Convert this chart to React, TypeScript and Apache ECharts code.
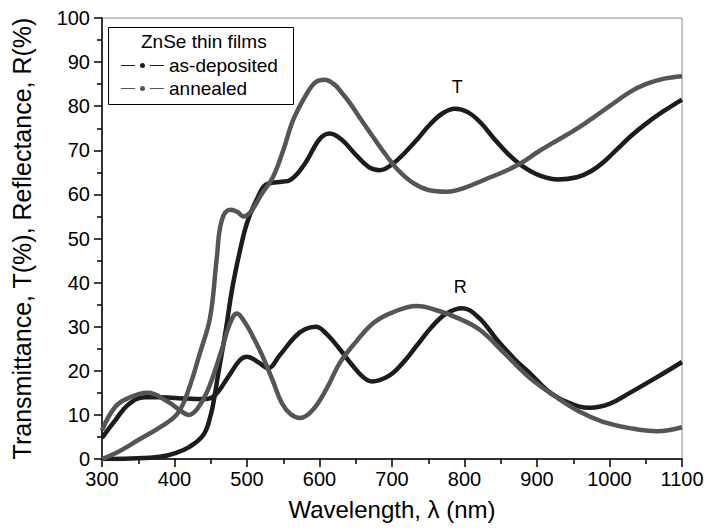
import React, { useEffect, useRef } from "react";
import * as echarts from "echarts";

const FONT = '"Liberation Sans", Arial, Helvetica, sans-serif';

// As-deposited transmittance
const tDepWl = [300, 340, 380, 400, 420, 440, 450, 455, 460, 470, 480, 490, 500, 513, 527, 545, 560, 580, 600, 614, 630, 650, 668, 683, 700, 718, 735, 752, 770, 787, 805, 822, 840, 860, 881, 905, 929, 955, 975, 995, 1012, 1030, 1050, 1074, 1100];
const tDepVal = [0, 0.1, 0.5, 1.3, 2.7, 5.5, 10, 14, 19, 28.5, 39, 47, 53.5, 58.7, 62.3, 62.8, 63.3, 67, 72.5, 73.8, 72.5, 69, 66.2, 65.5, 66.8, 69.5, 72.5, 75.8, 78.4, 79.4, 78.6, 76.3, 72.8, 69.2, 66.3, 64.2, 63.4, 63.9, 65.3, 67.8, 70.5, 73.3, 76, 78.8, 81.5];

// Annealed transmittance
const tAnnWl = [300, 320, 350, 383, 405, 420, 435, 449, 458, 465, 477, 487, 495, 505, 520, 536, 550, 564, 583, 595, 607, 620, 631, 642, 658, 674, 690, 708, 729, 750, 776, 800, 830, 855, 877, 900, 920, 940, 959, 980, 1000, 1028, 1050, 1074, 1100];
const tAnnVal = [0, 1.4, 4.3, 7.5, 10.5, 16, 24, 32, 45, 54, 56.5, 56, 55, 56, 60, 64, 70, 77, 83, 85.5, 86, 85, 83, 80.7, 76.8, 73, 69.3, 65.6, 62.6, 61, 60.6, 61.5, 63.5, 65.2, 67, 69.5, 71.5, 73.4, 75.3, 77.7, 80, 83.2, 85, 86.2, 86.8];

// As-deposited reflectance
const rDepWl = [300, 318, 336, 359, 383, 405, 442, 456, 474, 490, 500, 515, 529, 545, 566, 580, 595, 610, 630, 645, 660, 672, 695, 715, 735, 755, 775, 797, 820, 845, 870, 890, 914, 940, 973, 1000, 1028, 1065, 1100];
const rDepVal = [4.8, 8.7, 12.3, 14, 14, 13.8, 13.6, 14.5, 18.6, 22.4, 23.2, 22, 20.6, 23.5, 27.7, 29.4, 30, 28.3, 24.5, 21.3, 18.6, 17.6, 18.8, 21.8, 25.9, 30, 33, 34.2, 32, 27, 22.5, 19.5, 15.6, 13, 11.6, 12.5, 15, 18.5, 22];

// Annealed reflectance
const rAnnWl = [300, 318, 336, 363, 391, 408, 420, 432, 446, 465, 476, 486, 497, 509, 521, 535, 548, 560, 573, 590, 610, 628, 650, 674, 700, 734, 766, 790, 821, 855, 890, 925, 959, 990, 1028, 1066, 1100];
const rAnnVal = [6.5, 11.8, 13.8, 15, 13, 11, 10, 11.5, 15.6, 24.7, 30.5, 33, 31, 27.5, 23.5, 18, 12.7, 10.2, 9.3, 11, 16, 21.8, 26.5, 30.8, 33.2, 34.7, 33.5, 32, 29.3, 24, 18.4, 14.2, 10.7, 8.5, 7, 6.3, 7.2];

const seriesNames = ["as-deposited", "annealed"];
const legendTitle = "ZnSe thin films";
const curveLabels = [
  { text: "T", wl: 790, val: 84.4 },
  { text: "R", wl: 794, val: 39.0 },
];

const BLACK = "#1c1c1c";
const GRAY = "#555555";
const ICON =
  "path://M0,3H14V4H0Z M29,3H43V4H29Z M24,3.5A2.5,2.5,0,1,1,19,3.5A2.5,2.5,0,1,1,24,3.5Z";

const zip = (xs: number[], ys: number[]) => xs.map((x, i) => [x, ys[i]]);

export default function App() {
  const ref = useRef<HTMLDivElement>(null);
  useEffect(() => {
    if (!ref.current) return;
    const chart = echarts.init(ref.current, null, { renderer: "svg" });
    const lineBase = (name: string, color: string, data: number[][], extra: any = {}) => ({
      type: "line",
      name,
      data,
      smooth: 0.4,
      showSymbol: false,
      symbol: "none",
      lineStyle: { color, width: 4.5 },
      itemStyle: { color },
      ...extra,
    });
    const mk = (i: number) => ({
      symbol: "circle",
      symbolSize: 1,
      itemStyle: { color: "rgba(0,0,0,0)" },
      label: {
        show: true,
        position: "inside",
        formatter: curveLabels[i].text,
        color: "#000",
        fontSize: 18,
        fontFamily: FONT,
      },
      data: [{ coord: [curveLabels[i].wl, curveLabels[i].val] }],
    });
    chart.setOption({
      animation: false,
      backgroundColor: "#fff",
      textStyle: { fontFamily: FONT },
      grid: {
        left: 102,
        top: 18,
        width: 580,
        height: 441,
        show: true,
        borderColor: "#8a8a8a",
        borderWidth: 1,
        outerBoundsMode: "none",
      },
      legend: {
        orient: "vertical",
        left: 121,
        top: 56,
        itemWidth: 43,
        itemHeight: 5,
        itemGap: 4,
        padding: 0,
        selectedMode: false,
        textStyle: { fontSize: 19, color: "#000", fontFamily: FONT },
        data: [
          { name: seriesNames[0], icon: ICON, itemStyle: { color: BLACK } },
          { name: seriesNames[1], icon: ICON, itemStyle: { color: GRAY } },
        ],
      },
      xAxis: {
        type: "value",
        min: 300,
        max: 1100,
        interval: 100,
        name: "Wavelength, λ (nm)",
        nameLocation: "middle",
        nameGap: 38,
        nameTextStyle: { fontSize: 24, color: "#000", fontFamily: FONT },
        axisLine: { show: true, onZero: false, lineStyle: { color: "#000", width: 1.5 } },
        axisTick: { show: true, inside: false, length: 8, lineStyle: { color: "#000", width: 1.5 } },
        minorTick: { show: true, splitNumber: 2, length: 5, lineStyle: { color: "#000", width: 1.5 } },
        axisLabel: {
          fontSize: 20,
          color: "#000",
          margin: 10,
          fontFamily: FONT,
          formatter: (v: number) => String(v),
        },
        splitLine: { show: false },
      },
      yAxis: {
        type: "value",
        min: 0,
        max: 100,
        interval: 10,
        name: "Transmittance, T(%), Reflectance, R(%)",
        nameLocation: "middle",
        nameGap: 68,
        nameTextStyle: { fontSize: 25, color: "#000", fontFamily: FONT },
        axisLine: { show: true, onZero: false, lineStyle: { color: "#000", width: 1.5 } },
        axisTick: { show: true, inside: false, length: 8, lineStyle: { color: "#000", width: 1.5 } },
        minorTick: { show: true, splitNumber: 2, length: 5, lineStyle: { color: "#000", width: 1.5 } },
        axisLabel: {
          fontSize: 20,
          color: "#000",
          margin: 12,
          fontFamily: FONT,
          formatter: (v: number) => String(v),
        },
        splitLine: { show: false },
      },
      graphic: [
        {
          type: "rect",
          left: 108,
          top: 27,
          shape: { width: 185, height: 77 },
          style: { fill: "rgba(0,0,0,0)", stroke: "#000", lineWidth: 1 },
          z: 10,
        },
        {
          type: "text",
          left: 141,
          top: 32,
          style: { text: legendTitle, fontSize: 19, fill: "#000", fontFamily: FONT },
          z: 10,
        },
      ],
      series: [
        lineBase(seriesNames[0], BLACK, zip(tDepWl, tDepVal), { markPoint: mk(0), z: 2 }),
        lineBase(seriesNames[1], GRAY, zip(tAnnWl, tAnnVal), { z: 3 }),
        lineBase(seriesNames[0], BLACK, zip(rDepWl, rDepVal), { markPoint: mk(1), z: 2 }),
        lineBase(seriesNames[1], GRAY, zip(rAnnWl, rAnnVal), { z: 3 }),
      ],
    });
    return () => chart.dispose();
  }, []);
  return (
    <div
      ref={ref}
      style={{ position: "fixed", left: 0, top: 0, width: 707, height: 532, background: "#fff" }}
    />
  );
}
